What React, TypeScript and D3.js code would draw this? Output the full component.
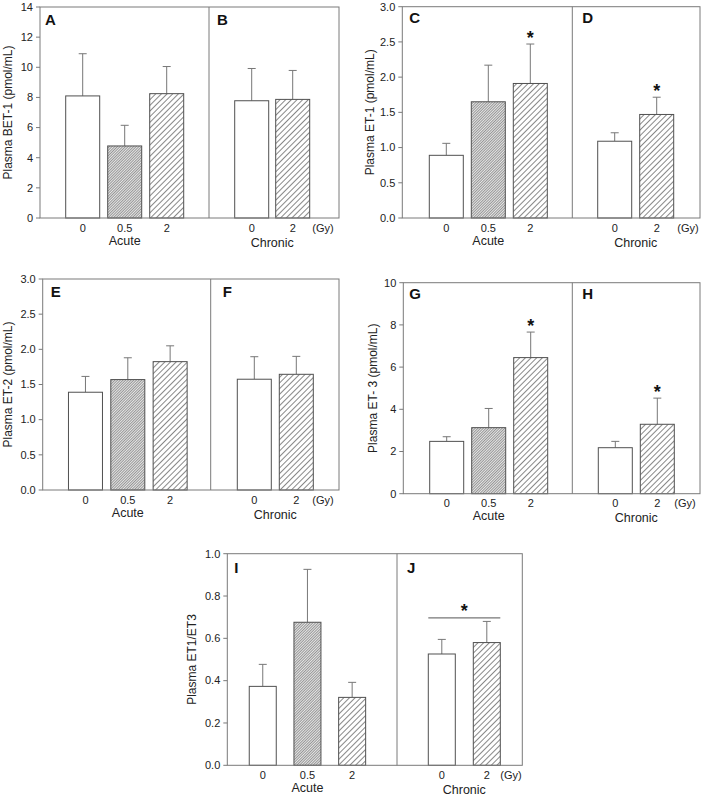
import React from 'react';
import * as d3 from 'd3';

// ---------- data ----------
const acuteDoses = ['0', '0.5', '2'];
const chronicDoses = ['0', '2'];

const bet1AcuteMean = [8.1, 4.78, 8.25];
const bet1AcuteErr = [2.8, 1.37, 1.8];
const bet1ChronicMean = [7.78, 7.87];
const bet1ChronicErr = [2.14, 1.92];

const et1AcuteMean = [0.89, 1.65, 1.91];
const et1AcuteErr = [0.17, 0.52, 0.56];
const et1ChronicMean = [1.09, 1.47];
const et1ChronicErr = [0.12, 0.245];

const et2AcuteMean = [1.39, 1.57, 1.825];
const et2AcuteErr = [0.225, 0.31, 0.225];
const et2ChronicMean = [1.575, 1.645];
const et2ChronicErr = [0.32, 0.255];

const et3AcuteMean = [2.48, 3.13, 6.45];
const et3AcuteErr = [0.22, 0.91, 1.21];
const et3ChronicMean = [2.18, 3.29];
const et3ChronicErr = [0.3, 1.24];

const ratioAcuteMean = [0.373, 0.676, 0.321];
const ratioAcuteErr = [0.104, 0.25, 0.071];
const ratioChronicMean = [0.526, 0.58];
const ratioChronicErr = [0.069, 0.1];

const FONT = 'Liberation Sans, Arial, Helvetica, sans-serif';
const AXIS = '#7a7a7a';
const OUTLINE = '#505050';

type PanelCfg = {
  left: number; right: number; top: number; bottom: number; divider: number;
  yMax: number; tickStep: number; fmt: string; ylabel: string; ylabelX: number;
  acuteRange: [number, number]; chronicRange: [number, number]; barW: number;
  letters: [string, string]; letterDx: [number, number]; letterDy: number;
  acuteMean: number[]; acuteErr: number[]; chronicMean: number[]; chronicErr: number[];
  acuteStar?: number; chronicStar?: number; bracket?: number; gyX: number;
};

const fills = ['white', 'url(#dense)', 'url(#sparse)'];
const chronicFills = ['white', 'url(#sparse)'];

function Panel({ c }: { c: PanelCfg }) {
  const y = d3.scaleLinear().domain([0, c.yMax]).range([c.bottom, c.top]);
  const ticks = d3.range(0, c.yMax + c.tickStep / 2, c.tickStep);
  const fmt = d3.format(c.fmt);
  const mk = (doses: string[], range: [number, number]) => {
    const p = 1 - (c.barW * doses.length) / (range[1] - range[0]);
    return d3.scaleBand<string>().domain(doses).range(range).paddingInner(p).paddingOuter(p / 2);
  };
  const xa = mk(acuteDoses, c.acuteRange);
  const xc = mk(chronicDoses, c.chronicRange);
  const cap = 4;

  const bars = (doses: string[], x: d3.ScaleBand<string>, means: number[], errs: number[], fl: string[], star?: number) =>
    doses.map((d, i) => {
      const x0 = x(d)!;
      const cx = x0 + x.bandwidth() / 2;
      const top = y(means[i]);
      const et = y(means[i] + errs[i]);
      return (
        <g key={d}>
          <line x1={cx} x2={cx} y1={top} y2={et} stroke="#777" strokeWidth={1} />
          <line x1={cx - cap} x2={cx + cap} y1={et} y2={et} stroke="#777" strokeWidth={1} />
          <rect x={x0} y={top} width={x.bandwidth()} height={c.bottom - top} fill={fl[i]} stroke={OUTLINE} strokeWidth={1} />
          <text x={cx} y={c.bottom + 13.5} textAnchor="middle" fontSize={11} fill="#222">{d}</text>
          {star === i && (
            <text x={cx} y={et - 0.5} textAnchor="middle" fontSize={18} fontWeight="bold" fill="#111">*</text>
          )}
        </g>
      );
    });

  const acuteCenter = xa(acuteDoses[1])! + xa.bandwidth() / 2;
  const chronicCenter = (xc(chronicDoses[0])! + xc(chronicDoses[1])! + xc.bandwidth()) / 2;
  const midY = (c.top + c.bottom) / 2;

  return (
    <g fontFamily={FONT}>
      {bars(acuteDoses, xa, c.acuteMean, c.acuteErr, fills, c.acuteStar)}
      {bars(chronicDoses, xc, c.chronicMean, c.chronicErr, chronicFills, c.chronicStar)}
      <rect x={c.left} y={c.top} width={c.right - c.left} height={c.bottom - c.top} fill="none" stroke={AXIS} strokeWidth={1} />
      <line x1={c.divider} x2={c.divider} y1={c.top} y2={c.bottom} stroke={AXIS} strokeWidth={1} />
      {ticks.map((t) => (
        <g key={t}>
          <line x1={c.left - 4} x2={c.left} y1={y(t)} y2={y(t)} stroke={AXIS} />
          <text x={c.left - 7} y={y(t) + 3.8} textAnchor="end" fontSize={11} fill="#222">{fmt(t)}</text>
        </g>
      ))}
      <text transform={`translate(${c.ylabelX},${midY}) rotate(-90)`} textAnchor="middle" fontSize={12} fill="#222">{c.ylabel}</text>
      <text x={c.left + c.letterDx[0]} y={c.top + c.letterDy} fontSize={15} fontWeight="bold" fill="#111">{c.letters[0]}</text>
      <text x={c.divider + c.letterDx[1]} y={c.top + c.letterDy} fontSize={15} fontWeight="bold" fill="#111">{c.letters[1]}</text>
      <text x={acuteCenter} y={c.bottom + 26.5} textAnchor="middle" fontSize={12.5} fill="#222">Acute</text>
      <text x={chronicCenter} y={c.bottom + 28.5} textAnchor="middle" fontSize={12.5} fill="#222">Chronic</text>
      <text x={c.gyX} y={c.bottom + 13.5} textAnchor="middle" fontSize={11} fill="#222">(Gy)</text>
      {c.bracket !== undefined && (() => {
        const x1 = xc(chronicDoses[0])!;
        const x2 = xc(chronicDoses[1])! + xc.bandwidth();
        const by = y(c.bracket);
        return (
          <g>
            <line x1={x1} x2={x2} y1={by} y2={by} stroke="#777" strokeWidth={1.2} />
            <text x={(x1 + x2) / 2} y={by - 0.5} textAnchor="middle" fontSize={18} fontWeight="bold" fill="#111">*</text>
          </g>
        );
      })()}
    </g>
  );
}

const panels: PanelCfg[] = [
  {
    left: 40, right: 339, top: 7, bottom: 218, divider: 209,
    yMax: 14, tickStep: 2, fmt: 'd', ylabel: 'Plasma BET-1 (pmol/mL)', ylabelX: 12,
    acuteRange: [61.7, 187.7], chronicRange: [231.2, 313.2], barW: 34,
    letters: ['A', 'B'], letterDx: [5, 8], letterDy: 17.5,
    acuteMean: bet1AcuteMean, acuteErr: bet1AcuteErr, chronicMean: bet1ChronicMean, chronicErr: bet1ChronicErr,
    gyX: 323,
  },
  {
    left: 402.3, right: 700, top: 6.7, bottom: 218, divider: 572.3,
    yMax: 3, tickStep: 0.5, fmt: '.1f', ylabel: 'Plasma ET-1 (pmol/mL)', ylabelX: 374,
    acuteRange: [425.3, 551.3], chronicRange: [593.7, 677.7], barW: 34,
    letters: ['C', 'D'], letterDx: [7, 10], letterDy: 16.5,
    acuteMean: et1AcuteMean, acuteErr: et1AcuteErr, chronicMean: et1ChronicMean, chronicErr: et1ChronicErr,
    acuteStar: 2, chronicStar: 1, gyX: 688,
  },
  {
    left: 42.7, right: 339, top: 279, bottom: 490, divider: 210.7,
    yMax: 3, tickStep: 0.5, fmt: '.1f', ylabel: 'Plasma ET-2 (pmol/mL)', ylabelX: 12,
    acuteRange: [64.3, 191.3], chronicRange: [233.3, 317.3], barW: 34,
    letters: ['E', 'F'], letterDx: [8, 12], letterDy: 18,
    acuteMean: et2AcuteMean, acuteErr: et2AcuteErr, chronicMean: et2ChronicMean, chronicErr: et2ChronicErr,
    gyX: 323,
  },
  {
    left: 403.3, right: 700, top: 282.7, bottom: 493.7, divider: 572.3,
    yMax: 10, tickStep: 2, fmt: 'd', ylabel: 'Plasma ET- 3 (pmol/mL)', ylabelX: 377,
    acuteRange: [425.7, 551.7], chronicRange: [594.3, 678.3], barW: 34,
    letters: ['G', 'H'], letterDx: [6, 10], letterDy: 16.5,
    acuteMean: et3AcuteMean, acuteErr: et3AcuteErr, chronicMean: et3ChronicMean, chronicErr: et3ChronicErr,
    acuteStar: 2, chronicStar: 1, gyX: 685,
  },
  {
    left: 227.3, right: 522.3, top: 553.7, bottom: 765.3, divider: 397,
    yMax: 1, tickStep: 0.2, fmt: '.1f', ylabel: 'Plasma ET1/ET3', ylabelX: 196,
    acuteRange: [240.4, 374.5], chronicRange: [419.3, 509.3], barW: 27,
    letters: ['I', 'J'], letterDx: [7, 10], letterDy: 19,
    acuteMean: ratioAcuteMean, acuteErr: ratioAcuteErr, chronicMean: ratioChronicMean, chronicErr: ratioChronicErr,
    bracket: 0.697, gyX: 511,
  },
];

export default function App() {
  return (
    <svg width={703} height={796} style={{ position: 'absolute', left: 0, top: 0, background: 'white' }}>
      <defs>
        <pattern id="dense" patternUnits="userSpaceOnUse" width={1.9} height={1.9} patternTransform="rotate(45)">
          <rect width={1.9} height={1.9} fill="#e6e6e6" />
          <line x1={0.4} y1={0} x2={0.4} y2={1.9} stroke="#5a5a5a" strokeWidth={0.6} />
        </pattern>
        <pattern id="sparse" patternUnits="userSpaceOnUse" width={4} height={4} patternTransform="rotate(45)">
          <rect width={4} height={4} fill="white" />
          <line x1={0.5} y1={0} x2={0.5} y2={4} stroke="#555" strokeWidth={0.7} />
        </pattern>
      </defs>
      <rect width={703} height={796} fill="white" />
      {panels.map((p, i) => <Panel key={i} c={p} />)}
    </svg>
  );
}
